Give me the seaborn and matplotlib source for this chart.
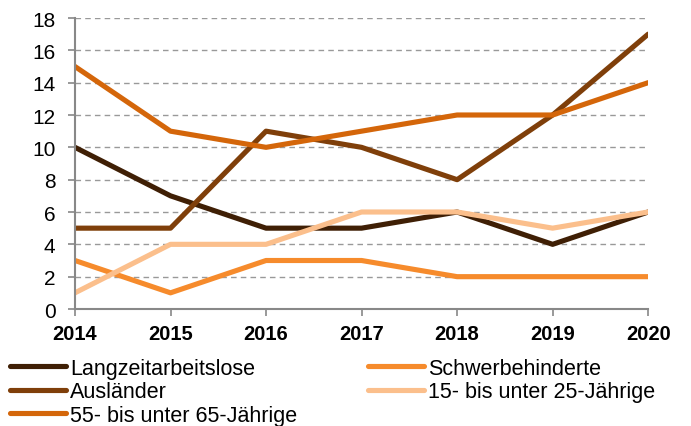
import numpy as np
import pandas as pd
import matplotlib
matplotlib.use("Agg")
import matplotlib.pyplot as plt
import seaborn as sns

years = [2014, 2015, 2016, 2017, 2018, 2019, 2020]
langzeit = [10, 7, 5, 5, 6, 4, 6]
schwer = [3, 1, 3, 3, 2, 2, 2]
auslaender = [5, 5, 11, 10, 8, 12, 17]
jung = [1, 4, 4, 6, 6, 5, 6]
alt = [15, 11, 10, 11, 12, 12, 14]

names = ["Langzeitarbeitslose", "Schwerbehinderte", "Ausländer",
         "15- bis unter 25-Jährige", "55- bis unter 65-Jährige"]
colors = ["#3f1f05", "#f68b2c", "#7f3f0a", "#fbbf8c", "#d4660a"]

df = pd.DataFrame({
    "Jahr": years * 5,
    "Wert": langzeit + schwer + auslaender + jung + alt,
    "Gruppe": sum([[n] * len(years) for n in names], []),
})

sns.set_theme(style="white")
plt.rcParams["font.family"] = ["Liberation Sans", "DejaVu Sans"]

fig = plt.figure(figsize=(6.91, 4.27), dpi=100)
ax = fig.add_axes([0.1085, 0.274, 0.8295, 0.6815])

sns.lineplot(data=df, x="Jahr", y="Wert", hue="Gruppe", hue_order=names,
             palette=colors, linewidth=3.7, ax=ax, legend=False)

ax.set_xlim(2014, 2020)
ax.set_ylim(0, 18)
ax.set_xticks(years)
ax.set_yticks(range(0, 19, 2))
ax.set_xlabel("")
ax.set_ylabel("")
ax.grid(axis="y", linestyle=(0, (4, 3)), color="#999999", linewidth=1)
ax.set_axisbelow(True)
for s in ["top", "right"]:
    ax.spines[s].set_visible(False)
for s in ["left", "bottom"]:
    ax.spines[s].set_color("#888888")
    ax.spines[s].set_linewidth(1.5)
ax.tick_params(axis="both", direction="out", length=5, width=1.2, color="#888888",
               labelsize=15, labelcolor="black")
ax.tick_params(axis="y", left=True, pad=9)
ax.tick_params(axis="x", bottom=True, pad=6)
for lab in ax.get_xticklabels():
    lab.set_fontweight("bold")
    lab.set_fontsize(14.5)

order = [0, 2, 4, 1, 3]
handles = [plt.Line2D([], [], color=colors[i], linewidth=3.7) for i in order]
labels = [names[i] for i in order]
fig.legend(handles, labels, ncol=2, loc="upper left", bbox_to_anchor=(0.014, 0.16),
           frameon=False, fontsize=15.5, handlelength=2.6, handletextpad=0.2,
           columnspacing=3.3, labelspacing=0.12, borderaxespad=0, borderpad=0,
           labelcolor="black")

fig.savefig("out.png", dpi=100)
